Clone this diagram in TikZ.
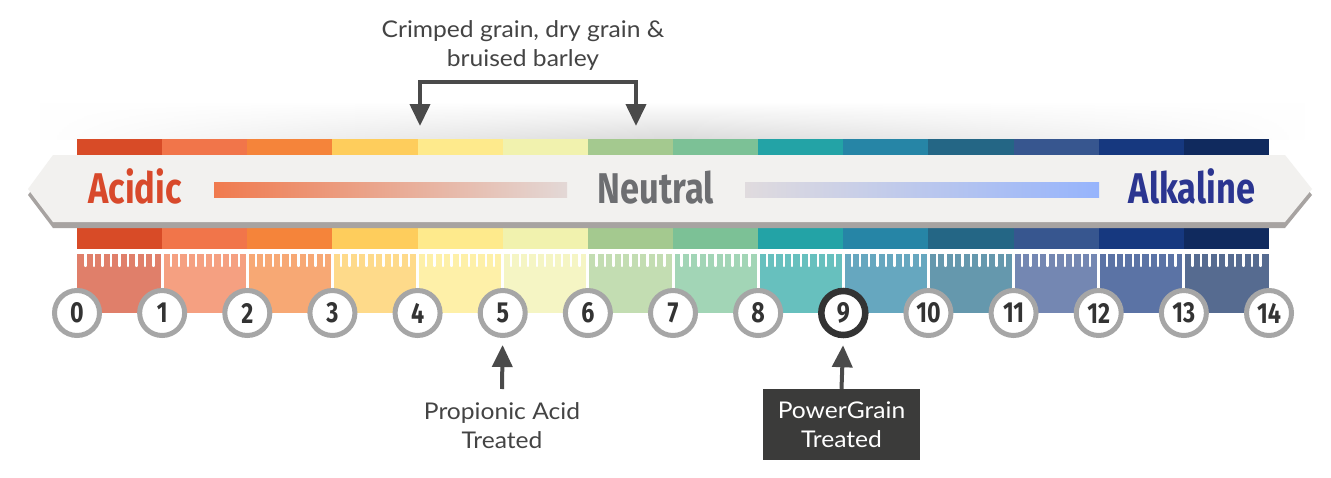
\documentclass[tikz,border=0pt]{standalone}
\usepackage{fontspec}
\setmainfont{Lato}
\newfontfamily\lbl[FakeStretch=1.07]{Lato}
\newfontfamily\condb[FakeStretch=0.8]{Fira Sans}
\usetikzlibrary{arrows.meta,fadings}
\definecolor{t0}{HTML}{D84B27}\definecolor{t1}{HTML}{F1754A}\definecolor{t2}{HTML}{F5843A}
\definecolor{t3}{HTML}{FECD5C}\definecolor{t4}{HTML}{FEEA8C}\definecolor{t5}{HTML}{F1F2AE}
\definecolor{t6}{HTML}{A4C98F}\definecolor{t7}{HTML}{7CC196}\definecolor{t8}{HTML}{23A3A6}
\definecolor{t9}{HTML}{2685A6}\definecolor{t10}{HTML}{246685}\definecolor{t11}{HTML}{37568F}
\definecolor{t12}{HTML}{16387F}\definecolor{t13}{HTML}{102A5E}
\definecolor{r0}{HTML}{E07F6A}\definecolor{r1}{HTML}{F5A081}\definecolor{r2}{HTML}{F7A874}
\definecolor{r3}{HTML}{FEDA8A}\definecolor{r4}{HTML}{FEF0A8}\definecolor{r5}{HTML}{F5F5C4}
\definecolor{r6}{HTML}{C3DDB2}\definecolor{r7}{HTML}{A2D5B6}\definecolor{r8}{HTML}{67C0BE}
\definecolor{r9}{HTML}{66A7BF}\definecolor{r10}{HTML}{6598AD}\definecolor{r11}{HTML}{7487B2}
\definecolor{r12}{HTML}{5B73A5}\definecolor{r13}{HTML}{566B90}
\definecolor{bannerfill}{HTML}{F2F1EF}
\definecolor{bannershadow}{HTML}{A7A3A1}
\definecolor{acidc}{HTML}{D8492B}
\definecolor{neutc}{HTML}{6D6E71}
\definecolor{alkc}{HTML}{2B3590}
\definecolor{ringc}{HTML}{A6A6A6}
\definecolor{darkc}{HTML}{333333}
\definecolor{arrowc}{HTML}{4A4A4A}
\definecolor{boxc}{HTML}{3B3B3A}
\definecolor{txtc}{HTML}{444444}
\definecolor{gla}{HTML}{F07A4E}\definecolor{glb}{HTML}{E3D8D6}
\definecolor{gra}{HTML}{E0DBDE}\definecolor{grb}{HTML}{96B4FC}
\tikzfading[name=sidefade, left color=transparent!100, right color=transparent!100, middle color=transparent!0]
\tikzset{
  numc/.style={circle, draw=ringc, line width=5pt, fill=white, minimum size=45pt, inner sep=0pt,
    font=\condb\bfseries\fontsize{29}{29}\selectfont, text=darkc},
  numsel/.style={numc, draw=darkc, line width=6.5pt, minimum size=44pt},
  bannertxt/.style={anchor=base, font=\condb\bfseries\fontsize{43}{43}\selectfont},
  plaintxt/.style={align=center, text=txtc, font=\lbl\fontsize{23}{29}\selectfont},
  pgbox/.style={fill=boxc, text=white, align=center, minimum width=157pt, minimum height=71pt,
    font=\lbl\fontsize{23}{29}\selectfont},
  ptr/.style={draw=arrowc, line width=4pt, -{Triangle[width=20pt,length=22pt]}},
  bracketln/.style={draw=arrowc, line width=4pt, miter limit=4,
    {Triangle[width=20pt,length=22pt]}-{Triangle[width=20pt,length=22pt]}},
  tickln/.style={draw=white, line width=2.3pt, line cap=round},
  divln/.style={draw=white, line width=3pt}
}
\begin{document}
\begin{tikzpicture}[x=1pt,y=-1pt]
\useasboundingbox[fill=white] (0,0) rectangle (1331,477);
% soft shadow above the top bar
\shade[top color=white, bottom color=black!14, path fading=sidefade] (40,102) rectangle (1305,139);
% colour bars
\foreach \i [evaluate=\i as \xa using 77+85.143*\i, evaluate=\i as \xb using 77+85.143*(\i+1)] in {0,...,13}{
  \fill[t\i] (\xa,139) rectangle (\xb,156);
  \fill[t\i] (\xa,221) rectangle (\xb,249);
  \fill[r\i] (\xa,254) rectangle (\xb,313);
  \foreach \k in {1,...,9}{
    \draw[tickln] ({\xa+\k*8.5143},254) -- ++(0,12);
  }
}
\foreach \i [evaluate=\i as \xa using 77+85.143*\i] in {1,...,13}{
  \draw[divln] (\xa,254) -- (\xa,313);
}
% banner
\fill[bannershadow] (53,161) -- (1285,161) -- (1312,195) -- (1285,228) -- (53,228) -- (28,195) -- cycle;
\fill[bannerfill] (53,155) -- (1285,155) -- (1312,189) -- (1285,222) -- (53,222) -- (28,189) -- cycle;
\shade[left color=gla, right color=glb] (214,182) rectangle (567,197);
\shade[left color=gra, right color=grb] (745,182) rectangle (1099,197);
\node[bannertxt, text=acidc] (acid) at (135,203) {Acidic};
\node[bannertxt, text=neutc] (neut) at (656,203) {Neutral};
\node[bannertxt, text=alkc] (alk) at (1192,203) {Alkaline};
% numbered circles
\foreach \i [evaluate=\i as \xa using 77+85.143*\i] in {0,...,8,10,11,12,13,14}{
  \node[numc] (c\i) at (\xa,313) {\i};
}
\node[numsel] (c9) at (843.3,313) {9};
% top label and bracket
\node[plaintxt] (crimp) at (523,45) {Crimped grain, dry grain \&\\bruised barley};
\coordinate (bl) at (420,82);
\coordinate (br) at (636,82);
\coordinate (tl) at (420,126);
\coordinate (tr) at (636,126);
\draw[bracketln] (tl) -- (bl) -- (br) -- (tr);
% bottom labels
\node[plaintxt] (prop) at (502,426) {Propionic Acid\\Treated};
\coordinate (p5) at (502,389);
\draw[ptr, shorten >=7pt] (p5) -- (c5.south);
\node[pgbox] (pg) at (841.5,424.5) {PowerGrain\\Treated};
\draw[ptr, shorten >=7pt] (pg.north) -- (c9.south);
\end{tikzpicture}
\end{document}
